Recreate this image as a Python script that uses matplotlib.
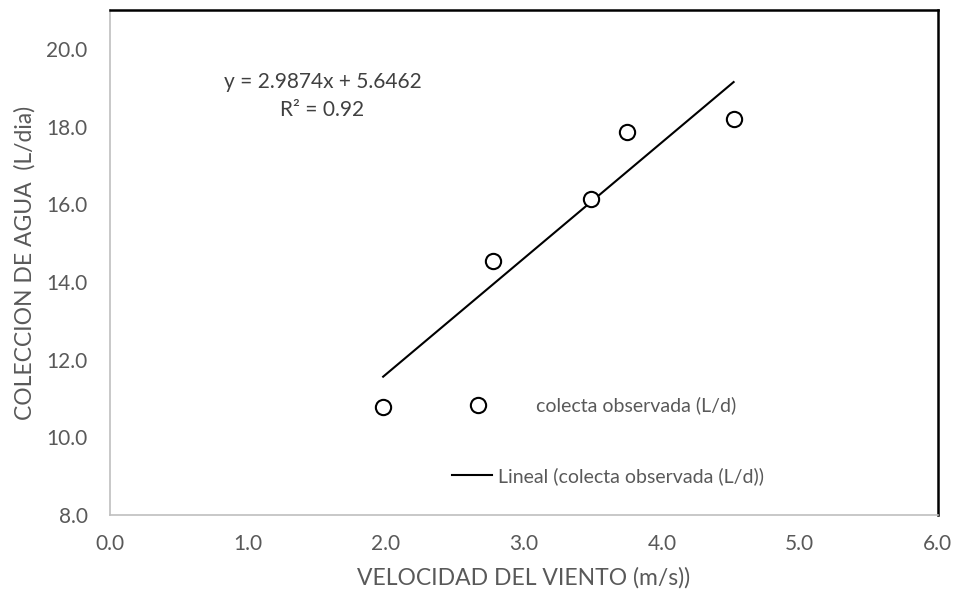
import numpy as np
import matplotlib.pyplot as plt

# observed data
velocidad = [1.98, 2.775, 3.49, 3.75, 4.52]
colecta = [10.78, 14.54, 16.14, 17.85, 18.20]

# trend line as reported
pendiente = 2.9874
intercepto = 5.6462
r2 = 0.92

xticks = [0, 1, 2, 3, 4, 5, 6]
yticks = [8, 10, 12, 14, 16, 18, 20]

plt.rcParams['font.family'] = ['Lato', 'DejaVu Sans']
gris = '#595959'

fig = plt.figure(figsize=(9.56, 5.99), dpi=100)
ax = fig.add_axes([0.115, 0.1403, 0.866, 0.8427])

puntos, = ax.plot(velocidad, colecta, 'o', markersize=11, markerfacecolor='white',
                  markeredgecolor='black', markeredgewidth=1.5, zorder=3)

xl = np.array([min(velocidad), max(velocidad)])
tendencia, = ax.plot(xl, pendiente * xl + intercepto, color='black', linewidth=1.5)

ax.set_xlim(0, 6)
ax.set_ylim(8, 21)
ax.set_xticks(xticks)
ax.set_yticks(yticks)
ax.set_xticklabels(['%.1f' % v for v in xticks])
ax.set_yticklabels(['%.1f' % v for v in yticks])
ax.tick_params(length=0, labelsize=15, colors=gris)
ax.tick_params(axis='x', pad=14)
ax.tick_params(axis='y', pad=16)

for s in ['left', 'bottom']:
    ax.spines[s].set_color('#bfbfbf')
    ax.spines[s].set_linewidth(1.2)
for s in ['top', 'right']:
    ax.spines[s].set_color('black')
    ax.spines[s].set_linewidth(1.8)

ax.set_xlabel('VELOCIDAD DEL VIENTO (m/s))', fontsize=16.5, color=gris, labelpad=9)
ax.set_ylabel('COLECCION DE AGUA  (L/dia)', fontsize=16.5, color=gris, labelpad=8)

ax.text(1.54, 18.79, 'y = %.4fx + %.4f\nR² = %.2f' % (pendiente, intercepto, r2),
        ha='center', va='center', fontsize=15, color='#404040', linespacing=1.45)

# two separate legend entries, as in the original layout
leg1 = ax.legend([puntos], ['colecta observada (L/d)'], loc='center left',
                 bbox_to_anchor=(0.433, 0.217), frameon=False, fontsize=14,
                 handlelength=1.0, handletextpad=2.5, borderpad=0, borderaxespad=0)
leg1.get_texts()[0].set_color(gris)
ax.add_artist(leg1)

leg2 = ax.legend([tendencia], ['Lineal (colecta observada (L/d))'], loc='center left',
                 bbox_to_anchor=(0.413, 0.077), frameon=False, fontsize=14,
                 handlelength=2.06, handletextpad=0.3, borderpad=0, borderaxespad=0)
leg2.get_texts()[0].set_color(gris)

fig.savefig('out.png', dpi=100)
